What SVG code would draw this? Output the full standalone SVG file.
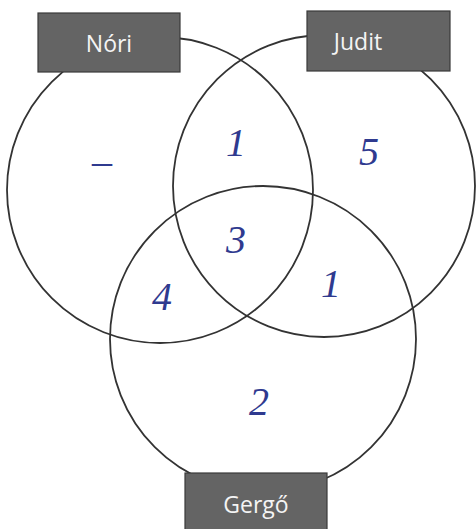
<svg xmlns="http://www.w3.org/2000/svg" width="476" height="529" viewBox="0 0 476 529">
<style>
.c{fill:none;stroke:#333;stroke-width:1.8}
.box{fill:#646464;stroke:#3a3a3a;stroke-width:1.2}
.lbl{fill:#f4f4f4;font-family:"Open Sans","Liberation Sans",sans-serif;font-size:23px}
.n{fill:#2f3a8f;font-family:"Liberation Serif",serif;font-style:italic;font-size:40px;text-anchor:middle}
</style>
<rect width="476" height="529" fill="#fff"/>
<g id="connectors">
<circle class="c" cx="160" cy="190" r="153"/>
<circle class="c" cx="324" cy="186" r="151"/>
<circle class="c" cx="263" cy="339" r="153"/>
</g>
<g id="nori"><rect class="box" x="38" y="13" width="142" height="59"/><text class="lbl" x="109" y="52" text-anchor="middle">Nóri</text></g>
<g id="judit"><rect class="box" x="307" y="11" width="143" height="60"/><text class="lbl" x="358" y="50" text-anchor="middle">Judit</text></g>
<g id="gergo"><rect class="box" x="185" y="473" width="142" height="60"/><text class="lbl" x="256" y="513" text-anchor="middle">Gergő</text></g>
<g id="numbers">
<text class="n" x="102" y="174">–</text>
<text class="n" x="236" y="156">1</text>
<text class="n" x="369" y="165">5</text>
<text class="n" x="236" y="253">3</text>
<text class="n" x="162" y="310">4</text>
<text class="n" x="331" y="297">1</text>
<text class="n" x="259" y="415">2</text>
</g>
</svg>
